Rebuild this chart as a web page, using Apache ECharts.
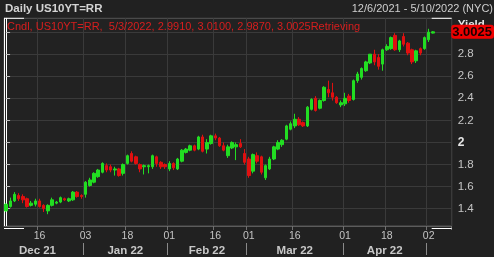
<!DOCTYPE html>
<html><head><meta charset="utf-8">
<script src="https://cdn.jsdelivr.net/npm/echarts@6/dist/echarts.min.js"></script>
<style>html,body{margin:0;padding:0;background:#212121;}#c{width:494px;height:257px;}</style>
</head><body><div id="c"></div>
<script>
const dates = [
 '2021-12-06','2021-12-07','2021-12-08','2021-12-09','2021-12-10','2021-12-13','2021-12-14','2021-12-15','2021-12-16','2021-12-17',
 '2021-12-20','2021-12-21','2021-12-22','2021-12-23','2021-12-27','2021-12-28','2021-12-29','2021-12-30','2021-12-31',
 '2022-01-03','2022-01-04','2022-01-05','2022-01-06','2022-01-07','2022-01-10','2022-01-11','2022-01-12','2022-01-13','2022-01-14',
 '2022-01-18','2022-01-19','2022-01-20','2022-01-21','2022-01-24','2022-01-25','2022-01-26','2022-01-27','2022-01-28','2022-01-31',
 '2022-02-01','2022-02-02','2022-02-03','2022-02-04','2022-02-07','2022-02-08','2022-02-09','2022-02-10','2022-02-11','2022-02-14',
 '2022-02-15','2022-02-16','2022-02-17','2022-02-18','2022-02-22','2022-02-23','2022-02-24','2022-02-25','2022-02-28',
 '2022-03-01','2022-03-02','2022-03-03','2022-03-04','2022-03-07','2022-03-08','2022-03-09','2022-03-10','2022-03-11','2022-03-14',
 '2022-03-15','2022-03-16','2022-03-17','2022-03-18','2022-03-21','2022-03-22','2022-03-23','2022-03-24','2022-03-25','2022-03-28',
 '2022-03-29','2022-03-30','2022-03-31',
 '2022-04-01','2022-04-04','2022-04-05','2022-04-06','2022-04-07','2022-04-08','2022-04-11','2022-04-12','2022-04-13','2022-04-14',
 '2022-04-18','2022-04-19','2022-04-20','2022-04-21','2022-04-22','2022-04-25','2022-04-26','2022-04-27','2022-04-28','2022-04-29',
 '2022-05-02','2022-05-03','2022-05-04','2022-05-05','2022-05-06','2022-05-09'
];

const opens = [
 1.38,1.42,1.47,1.52,1.51,1.49,1.43,1.44,1.47,1.43,1.38,1.43,1.45,1.46,1.49,1.47,1.48,1.55,1.52,
 1.53,1.61,1.64,1.69,1.73,1.79,1.78,1.75,1.76,1.72,1.81,1.90,1.87,1.80,1.78,1.78,1.78,1.87,1.82,1.80,
 1.76,1.81,1.76,1.83,1.91,1.93,1.97,1.94,2.05,1.94,1.99,2.06,2.04,1.97,1.88,1.95,1.96,1.99,1.90,
 1.85,1.74,1.88,1.87,1.68,1.76,1.85,1.94,1.98,2.03,2.12,2.15,2.21,2.18,2.15,2.30,2.40,2.31,2.38,2.48,2.45,2.41,2.34,
 2.35,2.42,2.39,2.56,2.59,2.65,2.72,2.80,2.77,2.71,2.84,2.85,2.97,2.84,2.96,2.90,2.84,2.74,2.85,2.85,
 2.93,2.991
];
const closes = [
 1.44,1.47,1.53,1.49,1.48,1.42,1.45,1.47,1.42,1.40,1.43,1.48,1.46,1.50,1.48,1.49,1.55,1.51,1.51,
 1.64,1.66,1.72,1.75,1.81,1.75,1.75,1.76,1.70,1.80,1.88,1.83,1.81,1.76,1.79,1.79,1.88,1.81,1.78,1.78,
 1.81,1.77,1.85,1.93,1.94,1.97,1.93,2.05,1.92,2.00,2.06,2.04,1.97,1.93,1.96,2.00,1.98,1.96,1.82,
 1.70,1.89,1.83,1.73,1.79,1.85,1.96,2.00,2.02,2.15,2.17,2.21,2.16,2.15,2.32,2.39,2.29,2.38,2.50,2.45,2.41,2.36,2.36,
 2.40,2.38,2.56,2.62,2.67,2.73,2.80,2.73,2.69,2.84,2.87,2.95,2.84,2.92,2.89,2.81,2.73,2.83,2.81,2.95,
 3.00,3.0025
];
const lows = [
 1.37,1.41,1.46,1.47,1.45,1.41,1.42,1.42,1.41,1.37,1.35,1.42,1.44,1.45,1.47,1.46,1.47,1.50,1.49,
 1.50,1.60,1.63,1.68,1.72,1.73,1.73,1.70,1.69,1.70,1.80,1.82,1.80,1.73,1.71,1.72,1.76,1.78,1.76,1.76,
 1.74,1.75,1.75,1.82,1.90,1.92,1.92,1.93,1.91,1.90,1.98,2.02,1.96,1.92,1.86,1.94,1.84,1.95,1.80,
 1.68,1.72,1.81,1.71,1.66,1.75,1.84,1.93,1.96,2.02,2.11,2.13,2.15,2.14,2.14,2.29,2.28,2.30,2.37,2.41,2.38,2.35,2.32,
 2.33,2.36,2.38,2.54,2.57,2.64,2.71,2.70,2.66,2.65,2.83,2.84,2.83,2.82,2.87,2.79,2.71,2.72,2.79,2.84,
 2.91,2.987
];
const highs = [
 1.45,1.50,1.55,1.54,1.53,1.50,1.47,1.49,1.49,1.44,1.44,1.50,1.47,1.51,1.50,1.50,1.56,1.56,1.53,
 1.65,1.68,1.73,1.76,1.82,1.81,1.80,1.78,1.77,1.81,1.89,1.92,1.88,1.81,1.80,1.80,1.89,1.88,1.83,1.81,
 1.83,1.82,1.86,1.94,1.95,1.98,1.98,2.06,2.07,2.03,2.07,2.08,2.05,2.00,1.98,2.01,2.00,2.03,1.94,
 1.87,1.90,1.91,1.88,1.80,1.87,1.97,2.02,2.03,2.16,2.19,2.26,2.23,2.19,2.33,2.40,2.42,2.39,2.51,2.56,2.54,2.42,2.38,
 2.45,2.44,2.57,2.64,2.68,2.74,2.80,2.84,2.80,2.85,2.89,2.96,2.99,2.93,2.99,2.91,2.85,2.84,2.86,2.96,
 3.03,3.01
];

const tickDates = ['2021-12-16','2022-01-03','2022-01-18','2022-02-01','2022-02-16','2022-03-01','2022-03-16','2022-04-01','2022-04-18','2022-05-02'];
const yTicks = [1.4,1.6,1.8,2,2.2,2.4,2.6,2.8,3];
const months = ['2021-12','2022-01','2022-02','2022-03','2022-04'];
const monthLabels = ['Dec 21','Jan 22','Feb 22','Mar 22','Apr 22'];
const preChartTradingDays = 3; // Dec 1-3, 2021 fall before the first category
const lastQuote = {date:'5/3/2022', open:2.9910, high:3.0100, low:2.9870, close:3.0025};

const FONT = "'Liberation Sans', Arial, sans-serif";
const candleData = opens.map((o,i)=>[o, closes[i], lows[i], highs[i]]);
const tickIdx = new Set(tickDates.map(d=>dates.indexOf(d)));
const monthFirst = months.map(m=>dates.findIndex(d=>d.startsWith(m)));
const monthLast = months.map(m=>{let k=-1; dates.forEach((d,i)=>{if(d.startsWith(m)) k=i;}); return k;});
const monthCenters = months.map((m,j)=>((j===0? monthFirst[j]-preChartTradingDays : monthFirst[j]) + monthLast[j])/2);
const monthBounds = months.map((m,j)=>monthLast[j]+0.5);

const G = {left:4, right:42.3, top:18.3, bottom:29};
const W = 494, H = 257;
const gx0 = G.left, gx1 = W - G.right, gy0 = G.top, gy1 = H - G.bottom;

const chart = echarts.init(document.getElementById('c'), null, {renderer:'canvas'});
chart.setOption({
  animation:false,
  backgroundColor:'#212121',
  textStyle:{fontFamily:FONT},
  title:[
    {text:'Daily US10YT=RR', left:5, top:3, padding:0, textStyle:{color:'#d4d4d4', fontSize:11.5, fontWeight:'bold', fontFamily:FONT}},
    {text:'12/6/2021 - 5/10/2022 (NYC)', right:1, top:3, padding:0, textStyle:{color:'#cfcfcf', fontSize:11, fontWeight:'normal', fontFamily:FONT}},
    {text:'Cndl, US10YT=RR,  '+lastQuote.date+', '+lastQuote.open.toFixed(4)+', '+lastQuote.high.toFixed(4)+', '+lastQuote.low.toFixed(4)+', '+lastQuote.close.toFixed(4)+'Retrieving',
     left:7, top:21, padding:0, textStyle:{color:'#d81e1e', fontSize:11, fontWeight:'normal', fontFamily:FONT}},
    {text:'Yield', left:gx1+6, top:19, padding:0, z:1, textStyle:{color:'#e8e8e8', fontSize:11.5, fontWeight:'bold', fontFamily:FONT}}
  ],
  grid:{left:G.left, right:G.right, top:G.top, bottom:G.bottom, show:true, borderColor:'#555555', borderWidth:1, backgroundColor:'#222222'},
  axisPointer:{triggerOn:'none'},
  xAxis:[
    {type:'category', data:dates, boundaryGap:true,
     axisLine:{show:true, lineStyle:{color:'#5c5c5c'}},
     axisTick:{show:true, interval:(i)=>tickIdx.has(i), length:4, lineStyle:{color:'#707070'}},
     axisLabel:{interval:(i)=>tickIdx.has(i), formatter:v=>v.slice(8,10), color:'#c4c4c4', fontSize:10.5, margin:5, fontFamily:FONT},
     splitLine:{show:true, interval:(i)=>tickIdx.has(i), lineStyle:{color:'#3a3a3a', width:1}}
    },
    {type:'value', position:'bottom', offset:17, min:-0.5, max:dates.length-0.5,
     axisLine:{show:false},
     axisTick:{show:true, customValues:monthBounds, length:12, inside:false, lineStyle:{color:'#8a8a8a'}},
     axisLabel:{show:true, customValues:monthCenters, formatter:v=>{const j=monthCenters.indexOf(v); return j>=0?monthLabels[j]:'';},
       color:'#c8c8c8', fontSize:11.5, fontWeight:'bold', margin:2, fontFamily:FONT},
     splitLine:{show:false}
    }
  ],
  yAxis:[
    {type:'value', position:'right', min:1.243, max:3.125,
     axisLine:{show:true, lineStyle:{color:'#ffffff'}},
     axisTick:{show:true, customValues:yTicks, length:4, lineStyle:{color:'#bdbdbd'}},
     axisLabel:{customValues:yTicks, margin:6, color:'#c4c4c4', fontSize:11.5, fontFamily:FONT,
       formatter:v=> v>=3 ? '' : (Math.abs(v-2)<1e-9 ? '{b|2}' : v.toFixed(1)),
       rich:{b:{fontWeight:'bold', color:'#e6e6e6', fontSize:12, fontFamily:FONT}}},
     splitLine:{show:true, lineStyle:{color:'#3a3a3a', width:1}},
     axisPointer:{show:true, type:'line', value:lastQuote.close, status:'show', snap:false, triggerTooltip:false,
       lineStyle:{opacity:0}, handle:{show:false},
       label:{show:true, margin:0.5, formatter:p=>Number(p.value).toFixed(4), backgroundColor:'#ee0000', color:'#1a0000',
         fontWeight:'bold', fontSize:13, padding:[1,2,0,1], fontFamily:FONT, shadowBlur:0, borderWidth:0}}
    },
    {type:'value', position:'left', min:1.243, max:3.125,
     axisLine:{show:true, lineStyle:{color:'#ffffff'}},
     axisTick:{show:false}, axisLabel:{show:false}, splitLine:{show:false}
    }
  ],
  graphic:[
    {type:'line', shape:{x1:gx0, y1:gy1+0.5, x2:gx0+20, y2:gy1+0.5}, style:{stroke:'#ffffff', lineWidth:1}, z:100},
    {type:'line', shape:{x1:gx1-20, y1:gy1+0.5, x2:gx1, y2:gy1+0.5}, style:{stroke:'#ffffff', lineWidth:1}, z:100},
    {type:'line', shape:{x1:gx1-20, y1:gy0, x2:gx1, y2:gy0}, style:{stroke:'#ffffff', lineWidth:1}, z:100},
    {type:'line', shape:{x1:gx0, y1:gy0, x2:gx0+20, y2:gy0}, style:{stroke:'#ffffff', lineWidth:1}, z:100}
  ],
  series:[{
    type:'candlestick', xAxisIndex:0, yAxisIndex:0, data:candleData, barWidth:3,
    itemStyle:{color:'#22dd22', color0:'#e01010', borderColor:'#22dd22', borderColor0:'#e01010', borderWidth:1}
  }]
});
</script></body></html>
